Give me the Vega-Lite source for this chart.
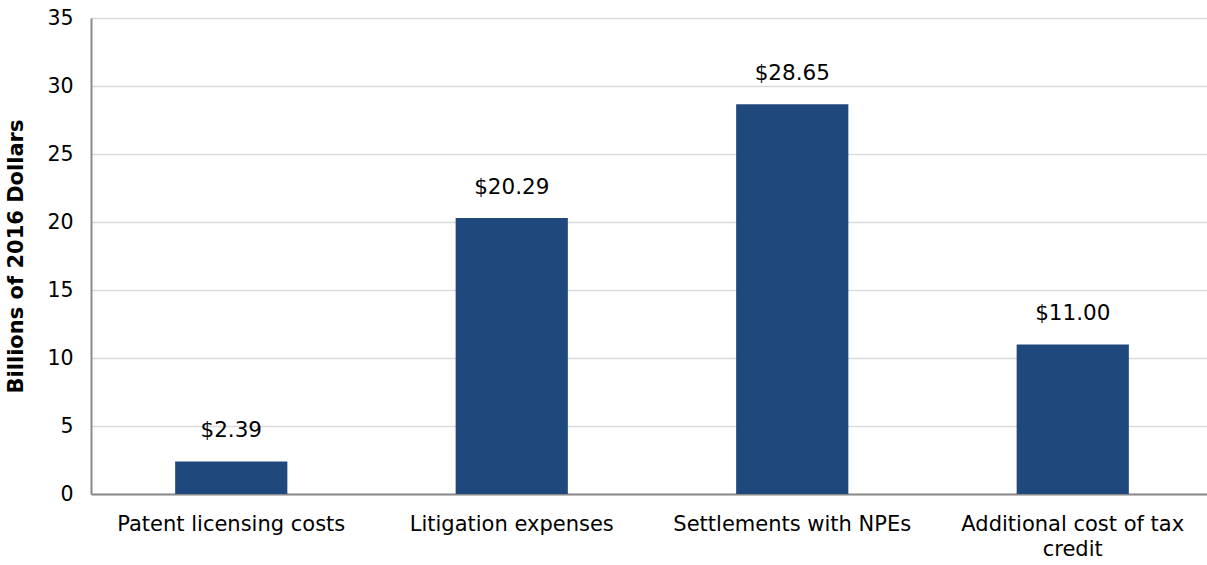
{
  "$schema": "https://vega.github.io/schema/vega-lite/v6.json",
  "width": 1122,
  "height": 476,
  "autosize": "none",
  "padding": {"left": 91, "top": 18, "right": -6, "bottom": 71},
  "background": "white",
  "config": {
    "view": {"stroke": null},
    "font": "DejaVu Sans"
  },
  "data": {
    "values": [
      {"category": "Patent licensing costs", "value": 2.39},
      {"category": "Litigation expenses", "value": 20.29},
      {"category": "Settlements with NPEs", "value": 28.65},
      {"category": "Additional cost of tax credit", "value": 11.00}
    ]
  },
  "encoding": {
    "x": {
      "field": "category",
      "type": "nominal",
      "sort": null,
      "scale": {"paddingInner": 0.6, "paddingOuter": 0.3},
      "axis": {
        "title": null,
        "labelAngle": 0,
        "labelFontSize": 21,
        "labelColor": "#000000",
        "labelPadding": 19,
        "labelLineHeight": 25,
        "labelLimit": 500,
        "labelExpr": "datum.label == 'Additional cost of tax credit' ? ['Additional cost of tax', 'credit'] : datum.label",
        "ticks": false,
        "domainColor": "#898989",
        "domainWidth": 2
      }
    },
    "y": {
      "field": "value",
      "type": "quantitative",
      "scale": {"domain": [0, 35]},
      "axis": {
        "title": "Billions of 2016 Dollars",
        "titleFontSize": 21,
        "titleFontWeight": "bold",
        "titleColor": "#000000",
        "titlePadding": 20,
        "values": [0, 5, 10, 15, 20, 25, 30, 35],
        "labelFontSize": 20.5,
        "labelColor": "#000000",
        "labelPadding": 18,
        "ticks": false,
        "gridColor": "#d9d9d9",
        "gridWidth": 1.5,
        "domainColor": "#898989",
        "domainWidth": 2
      }
    }
  },
  "layer": [
    {"mark": {"type": "bar", "color": "#1F497D"}},
    {
      "mark": {"type": "text", "baseline": "bottom", "dy": -19, "fontSize": 21.5, "color": "#000000"},
      "encoding": {"text": {"field": "value", "type": "quantitative", "format": "$.2f"}}
    }
  ]
}
